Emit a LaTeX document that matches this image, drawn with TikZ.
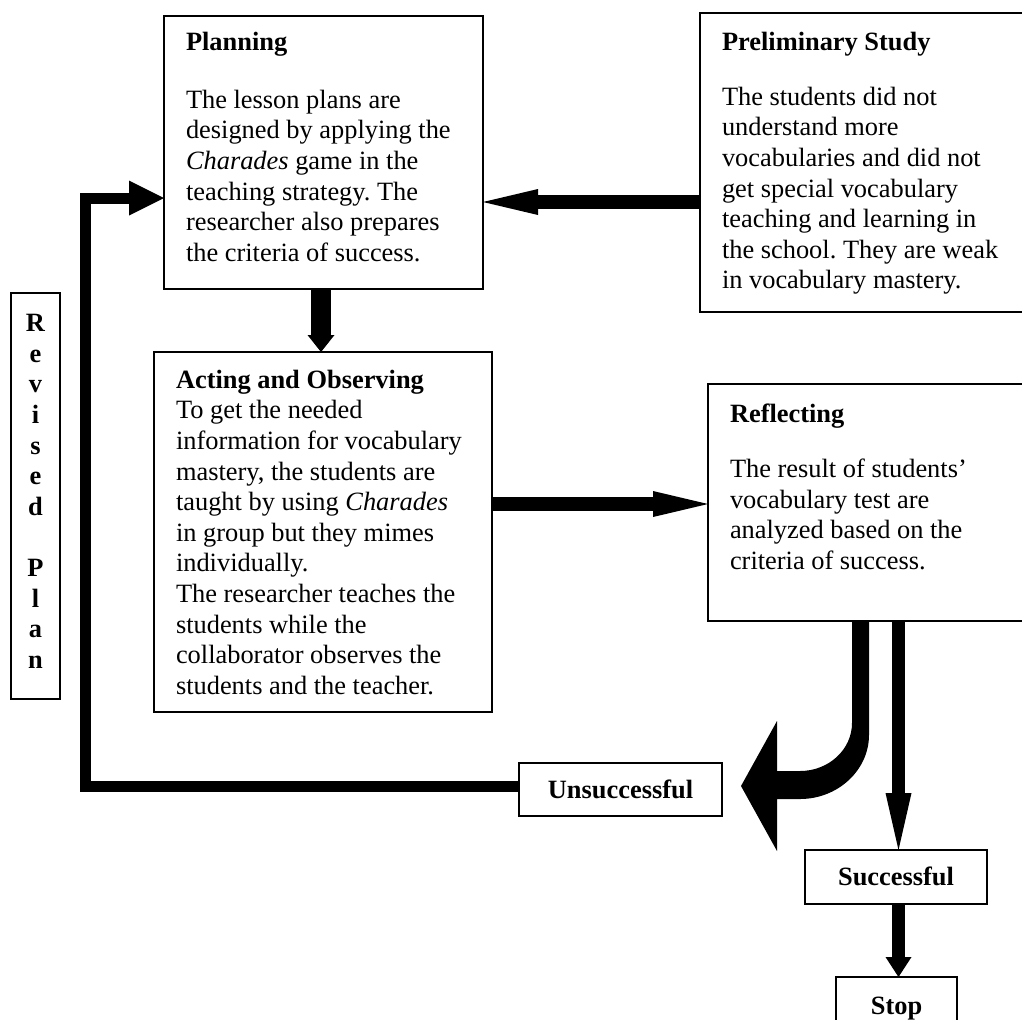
\documentclass[tikz,border=0pt]{standalone}
\usepackage{fontspec}
\setmainfont{Liberation Serif}
\usetikzlibrary{arrows.meta}
\frenchspacing
\newcommand{\stagetext}[5]{\parbox[t][#1][t]{#2}{\raggedright\leftskip=11pt\relax\textbf{#3}\par\vspace{#4}#5}}
\begin{document}
\begin{tikzpicture}[x=0.5pt,y=-0.5pt,
		font=\fontsize{13.2pt}{15.3pt}\selectfont,
		stage/.style={draw,line width=0.7pt,anchor=north west,inner xsep=0pt,outer sep=0pt},
		tag/.style={draw,line width=0.7pt,font=\fontsize{13.2pt}{15.3pt}\selectfont\bfseries,inner sep=0pt,outer sep=0pt,text height=8.7pt,text depth=0pt}]
			\useasboundingbox (0,0) rectangle (1022,1019);
			\node[stage,inner ysep=8pt] (plan) at (164,16) {\stagetext{120.5pt}{159.5pt}{Planning}{13.7pt}{The lesson plans are\\designed by applying the\\\textit{Charades} game in the\\teaching strategy. The\\researcher also prepares\\the criteria of success.}};
			\node[stage,inner ysep=9.5pt] (prelim) at (700,13) {\stagetext{130.5pt}{170pt}{Preliminary Study}{12.2pt}{The students did not\\understand more\\vocabularies and did not\\get special vocabulary\\teaching and learning in\\the school. They are weak\\in vocabulary mastery.}};
			\node[stage,inner ysep=9pt] (act) at (154,352) {\stagetext{162pt}{169pt}{Acting and Observing}{0pt}{To get the needed\\information for vocabulary\\mastery, the students are\\taught by using \textit{Charades}\\in group but they mimes\\individually.\\The researcher teaches the\\students while the\\collaborator observes the\\students and the teacher.}};
			\node[stage,inner ysep=10pt] (refl) at (708,384) {\stagetext{98.5pt}{166pt}{Reflecting}{12.2pt}{The result of students’\\vocabulary test are\\analyzed based on the\\criteria of success.}};
			\node[stage,inner ysep=10.75pt] (revised) at (11,293) {\parbox[t][181.5pt][t]{24.5pt}{\centering\bfseries R\\e\\v\\i\\s\\e\\d\\[15.3pt]P\\l\\a\\n}};
			\node[tag,minimum width=101.5pt,minimum height=26.5pt] (unsucc) at (620.5,789.5) {Unsuccessful};
			\node[tag,minimum width=91pt,minimum height=27pt] (succ) at (896,877) {Successful};
			\node[tag,minimum width=60.5pt,minimum height=29pt] (stop) at (896.5,1006) {Stop};
			% block arrows
			\draw[line width=7pt,-{Triangle[length=27.5pt,width=13pt,line width=0pt]}] (prelim.west |- 0,202) -- (plan.east |- 0,202);
			\draw[line width=10pt,-{Triangle[length=8.5pt,width=13.5pt,line width=0pt]}] (plan.south -| 321,0) -- (act.north -| 321,0);
			\draw[line width=7pt,-{Triangle[length=27.5pt,width=13pt,line width=0pt]}] (act.east |- 0,504) -- (refl.west |- 0,504);
			\draw[line width=6.5pt,-{Triangle[length=28.5pt,width=13pt,line width=0pt]}] (refl.south -| 898.5,0) -- (succ.north -| 898.5,0);
			\draw[line width=6.5pt,-{Triangle[length=10pt,width=13pt,line width=0pt]}] (succ.south -| 898.5,0) -- (stop.north -| 898.5,0);
			\draw[line width=5.5pt,-{Triangle[length=17.5pt,width=17.5pt,line width=0pt]}] (unsucc.west |- 0,786) -| (85,198) -- (plan.west |- 0,198);
			% curved arrow back to unsuccessful
			\fill (refl.south -| 852,0) -- (852,723) .. controls (852,749.5) and (828.7,771) .. (800,771) -- (777,771) -- (777,721) -- (741,786) -- (777,851) -- (777,799) -- (800,799) .. controls (838,799) and (869,770) .. (869,735) -- (refl.south -| 869,0) -- cycle;
		\end{tikzpicture}
\end{document}
